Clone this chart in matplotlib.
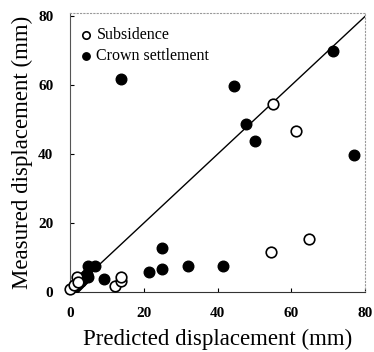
import matplotlib
matplotlib.use('Agg')
import matplotlib.pyplot as plt

plt.rcParams['font.family'] = 'Liberation Serif'

# Subsidence (open circles)
sub_pred = [0.1, 1.0, 1.9, 2.2, 12.1, 13.9, 13.9, 54.6, 55.1, 61.2, 64.8]
sub_meas = [0.8, 2.0, 4.3, 3.0, 1.7, 3.3, 4.3, 11.6, 54.6, 46.8, 15.5]

# Crown settlement (filled circles)
crown_pred = [0.6, 1.1, 1.6, 2.1, 2.6, 3.1, 3.6, 4.1, 4.6, 5.0, 5.0, 6.8,
              9.1, 13.9, 21.4, 25.0, 25.0, 31.9, 41.4, 44.4, 47.8, 50.3,
              71.3, 76.9]
crown_meas = [0.6, 1.2, 1.7, 2.2, 2.8, 3.3, 3.8, 4.6, 5.2, 4.4, 7.5, 7.5,
              3.9, 61.9, 5.7, 6.8, 12.7, 7.6, 7.6, 59.7, 48.7, 43.7,
              69.9, 39.7]

line_x = [0, 80]
line_y = [0, 80]

fig = plt.figure(figsize=(3.74, 3.52), dpi=100)
ax = fig.add_axes([70/374, 1-292/352, 295/374, 279/352])

ax.plot(line_x, line_y, color='black', lw=1.0, zorder=1)
ax.scatter(crown_pred, crown_meas, s=58, facecolor='black', edgecolor='black',
           label='Crown settlement', zorder=3)
ax.scatter(sub_pred, sub_meas, s=58, facecolor='white', edgecolor='black',
           linewidth=1.2, label='Subsidence', zorder=4, clip_on=False)

ax.set_xlim(0, 80)
ax.set_ylim(0, 81)
ax.set_xticks([0, 20, 40, 60, 80])
ax.set_yticks([0, 20, 40, 60, 80])
ax.tick_params(direction='in', length=3, labelsize=11)
ax.tick_params(axis='x', pad=11)
ax.tick_params(axis='y', pad=12)
for lab in ax.get_xticklabels() + ax.get_yticklabels():
    lab.set_fontweight('bold')
ax.set_xlabel('Predicted displacement (mm)', fontsize=16.5, labelpad=6)
ax.set_ylabel('Measured displacement (mm)', fontsize=16.5, labelpad=4)

for side in ['top', 'right']:
    ax.spines[side].set_linestyle((0, (1, 2)))
    ax.spines[side].set_color('#999999')
    ax.spines[side].set_linewidth(0.8)
ax.spines['left'].set_color('#555555')
ax.spines['bottom'].set_color('#333333')

handles, labels = ax.get_legend_handles_labels()
ax.legend(handles[::-1], labels[::-1], loc='upper left', frameon=False,
          bbox_to_anchor=(-0.027, 1.0),
          fontsize=11.5, handletextpad=0.05, handlelength=1.2,
          borderaxespad=0.6, borderpad=0.3, labelspacing=0.3,
          markerscale=0.7)

fig.savefig('out.png', dpi=100)
